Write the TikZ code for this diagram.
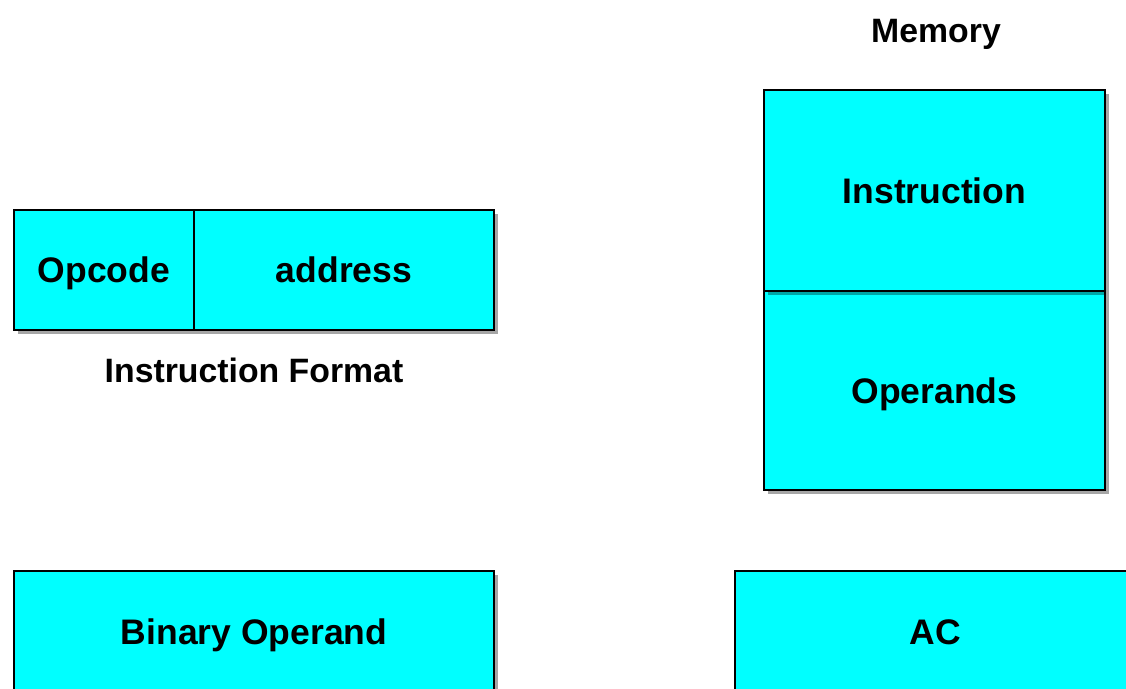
\documentclass[tikz,border=0pt]{standalone}
\usepackage{fontspec}
\setmainfont{Liberation Sans}
\usetikzlibrary{shadows}
\definecolor{boxcyan}{RGB}{0,255,255}
\tikzset{
  cell/.style={draw=black, line width=1.3pt, fill=boxcyan, inner sep=0pt,
    text height=25.5pt, text depth=0pt,
    font=\bfseries\fontsize{35.5}{40}\selectfont,
    drop shadow={shadow xshift=4pt, shadow yshift=-4pt, fill=black, opacity=0.35}},
  caption/.style={inner sep=0pt, text height=24pt, text depth=0pt,
    font=\bfseries\fontsize{33.8}{38}\selectfont}
}
\begin{document}
\begin{tikzpicture}[x=1pt, y=-1pt]
  \clip (0,0) rectangle (1126,688);
  \fill[white] (0,0) rectangle (1126,688);

  % instruction format
  \node[cell, minimum width=180pt, minimum height=120pt] (opcode) at (104,270) {Opcode};
  \node[cell, minimum width=300pt, minimum height=120pt] (address) at (344,270) {address};
  \node[caption] (fmt) at (254,370) {Instruction Format};

  % memory
  \node[caption] (mem) at (936,30) {Memory};
  \node[cell, minimum width=341pt, minimum height=199pt] (operands) at (934.5,390.5) {Operands};
  \node[cell, minimum width=341pt, minimum height=201pt] (instr) at (934.5,190.5) {Instruction};

  % operand and accumulator
  \node[cell, minimum width=480pt, minimum height=122pt] (binop) at (254,632) {Binary Operand};
  \node[cell, minimum width=400pt, minimum height=122pt] (ac) at (935,632) {AC};
\end{tikzpicture}
\end{document}
